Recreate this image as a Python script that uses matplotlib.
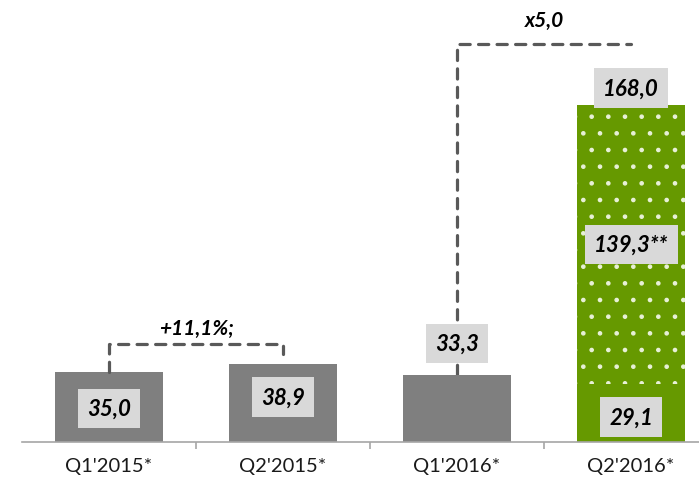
import matplotlib

matplotlib.use("Agg")

import matplotlib.pyplot as plt

# quarterly values (labels use comma decimals)
categories = ["Q1'2015*", "Q2'2015*", "Q1'2016*", "Q2'2016*"]
solid_values = [35.0, 38.9, 33.3, 29.1]
extra_value = 139.3          # dotted segment stacked on the last bar
total_last = 168.0
growth_pct_label = "+11,1%;"
growth_x_label = "x5,0"

GREY = "#7f7f7f"
GREEN = "#669900"
DASH = "#595959"
BOX = "#d9d9d9"

plt.rcParams["font.family"] = ["Lato", "DejaVu Sans"]
plt.rcParams["hatch.linewidth"] = 0.9

fig = plt.figure(figsize=(6.99, 4.85), dpi=100)
ax = fig.add_axes([22 / 699, 42 / 485, 677 / 699, 443 / 485])

xs = list(range(len(categories)))
colors = [GREY, GREY, GREY, GREEN]
ax.bar(xs, solid_values, width=0.62, color=colors, linewidth=0, zorder=2)
ax.bar(xs[3], extra_value, bottom=solid_values[3], width=0.62, color=GREEN,
       edgecolor="#e8f0d8", hatch=".", linewidth=0, zorder=2)

ax.set_xlim(-0.5, 3.39)
ax.set_ylim(0, 221.5)

for side in ("top", "right", "left"):
    ax.spines[side].set_visible(False)
ax.spines["bottom"].set_color("#a6a6a6")
ax.spines["bottom"].set_linewidth(1.2)
ax.set_yticks([])
ax.set_xticks(xs)
ax.set_xticklabels(categories, fontsize=14.5, color="#1a1a1a")
ax.tick_params(axis="x", which="major", length=0, pad=11)
ax.set_xticks([0.5, 1.5, 2.5], minor=True)
ax.tick_params(axis="x", which="minor", length=5, color="#a6a6a6", width=1.2)


def value_box(x, y, text):
    ax.text(x, y, text, ha="center", va="center", fontsize=16,
            fontweight="bold", fontstyle="italic", color="black", zorder=5,
            bbox=dict(boxstyle="square,pad=0.42", facecolor=BOX,
                      edgecolor="none"))


def fmt(v):
    return f"{v:.1f}".replace(".", ",")


value_box(xs[0], solid_values[0] * 0.48, fmt(solid_values[0]))
value_box(xs[1], solid_values[1] * 0.58, fmt(solid_values[1]))
value_box(xs[2], solid_values[2] + 16, fmt(solid_values[2]))
value_box(xs[3], solid_values[3] * 0.43, fmt(solid_values[3]))
value_box(xs[3], solid_values[3] + extra_value / 2, fmt(extra_value) + "**")
value_box(xs[3], total_last + 9, fmt(total_last))

dash_kw = dict(color=DASH, linewidth=2.3, linestyle=(0, (3.2, 2.6)),
               dash_capstyle="round", solid_capstyle="round", zorder=3)

# +11,1% bracket between the 2015 quarters
y_b = solid_values[1] + 10
ax.plot([xs[0], xs[0], xs[1], xs[1]],
        [solid_values[0], y_b, y_b, y_b - 5], **dash_kw)
ax.text((xs[0] + xs[1]) / 2, y_b + 8, growth_pct_label, ha="center",
        va="center", fontsize=15, fontweight="bold", fontstyle="italic")

# x5,0 bracket from Q1'2016 towards Q2'2016
y_t = total_last + 31
ax.plot([xs[2], xs[2], xs[3]], [solid_values[2], y_t, y_t],
        **{**dash_kw, "zorder": 1})
ax.text((xs[2] + xs[3]) / 2, y_t + 12, growth_x_label, ha="center",
        va="center", fontsize=15, fontweight="bold", fontstyle="italic")

fig.savefig("out.png")
plt.close(fig)
